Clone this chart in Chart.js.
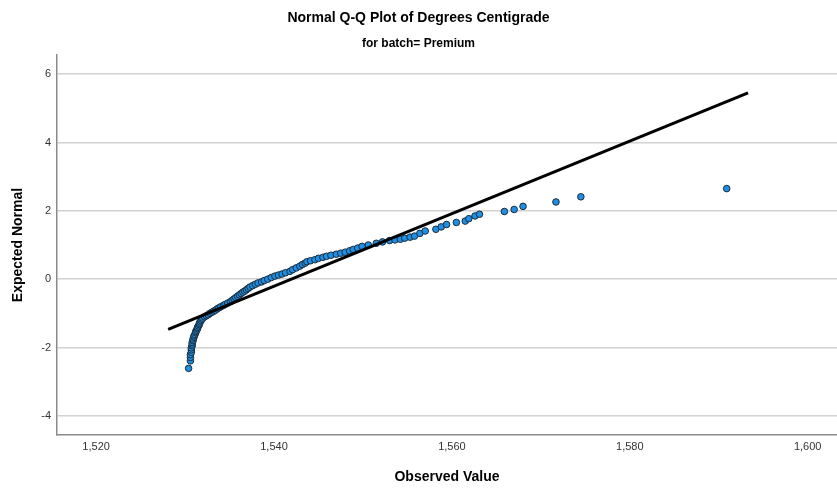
<!DOCTYPE html>
<html>
<head>
<meta charset="utf-8">
<title>Normal Q-Q Plot of Degrees Centigrade</title>
<script src="https://cdn.jsdelivr.net/npm/chart.js@4.4.0/dist/chart.umd.min.js"></script>
<style>
  body { margin: 0; background: #fff; }
  #wrap { width: 837px; height: 488px; }
</style>
</head>
<body>
<div id="wrap"><canvas id="qqChart"></canvas></div>
<script>
var observed = [
  1530.4, 1530.6, 1530.6, 1530.6, 1530.7, 1530.7, 1530.7, 1530.8, 1530.8, 1530.8, 1530.9, 1530.9,
  1531.0, 1531.0, 1531.1, 1531.2, 1531.2, 1531.3, 1531.4, 1531.4, 1531.5, 1531.6, 1531.6, 1531.7,
  1531.8, 1531.9, 1532.0, 1532.2,
  1532.4, 1532.6, 1532.8, 1533.0, 1533.2, 1533.4, 1533.6, 1533.8, 1534.0, 1534.3, 1534.5, 1534.8, 1535.1,
  1535.3, 1535.5, 1535.7, 1535.9, 1536.1, 1536.3, 1536.5, 1536.7, 1536.9, 1537.1, 1537.3,
  1537.6, 1537.9, 1538.2, 1538.6, 1538.9, 1539.3, 1539.7, 1540.1, 1540.5, 1540.9, 1541.3, 1541.8,
  1542.1, 1542.5, 1542.9, 1543.2, 1543.5, 1543.7,
  1544.1, 1544.6, 1545.0, 1545.5, 1545.9, 1546.4, 1547.0, 1547.5, 1548.0, 1548.5, 1548.9, 1549.4, 1549.9,
  1550.6, 1551.5, 1552.2, 1553.0, 1553.6, 1554.2, 1554.7, 1555.3, 1555.8, 1556.4, 1557.0, 1558.2,
  1558.8, 1559.4, 1560.5, 1561.5, 1561.9, 1562.6, 1563.1, 1565.9, 1567.0, 1568.0, 1571.7, 1574.5, 1590.9
];
// Expected normal scores for each observed value
var expectedNormal = [
  -2.61, -2.39, -2.29, -2.21, -2.14, -2.07, -2.01, -1.95, -1.90, -1.85, -1.80, -1.75,
  -1.70, -1.66, -1.62, -1.57, -1.53, -1.49, -1.45, -1.41, -1.37, -1.33, -1.29, -1.25,
  -1.21, -1.17, -1.14, -1.10,
  -1.07, -1.04, -1.00, -0.97, -0.94, -0.91, -0.87, -0.84, -0.81, -0.77, -0.74, -0.70, -0.66,
  -0.62, -0.58, -0.54, -0.50, -0.46, -0.42, -0.38, -0.35, -0.31, -0.27, -0.23,
  -0.19, -0.15, -0.11, -0.08, -0.04, 0.00, 0.05, 0.09, 0.12, 0.15, 0.19, 0.23,
  0.28, 0.33, 0.38, 0.43, 0.47, 0.51,
  0.54, 0.57, 0.61, 0.64, 0.67, 0.70, 0.73, 0.76, 0.79, 0.83, 0.87, 0.91, 0.96,
  1.00, 1.05, 1.09, 1.13, 1.15, 1.17, 1.20, 1.23, 1.26, 1.34, 1.41, 1.46,
  1.53, 1.60, 1.66, 1.70, 1.77, 1.85, 1.90, 1.98, 2.04, 2.13, 2.26, 2.41, 2.65
];
// Reference line end points
var lineObserved = [1528.1, 1593.3];
var lineExpected = [-1.47, 5.45];
// Axis ticks
var xTicks = [1520, 1540, 1560, 1580, 1600];
var yTicks = [-4, -2, 0, 2, 4, 6];

var FONT = "'Liberation Sans', Arial, sans-serif";

var points = observed.map(function (v, i) { return { x: v, y: expectedNormal[i] }; });
var linePts = lineObserved.map(function (v, i) { return { x: v, y: lineExpected[i] }; });

new Chart(document.getElementById('qqChart').getContext('2d'), {
    type: 'scatter',
    data: {
        datasets: [
            {
                type: 'line',
                data: linePts,
                borderColor: '#000',
                borderWidth: 3,
                pointRadius: 0,
                fill: false
            },
            {
                data: points,
                backgroundColor: '#1f8fe3',
                borderColor: '#1b2b3a',
                borderWidth: 1,
                pointRadius: 3.3
            }
        ]
    },
    options: {
        responsive: true,
        maintainAspectRatio: false,
        animation: false,
        layout: { padding: 0, autoPadding: false },
        plugins: {
            legend: { display: false },
            tooltip: { enabled: false },
            title: {
                display: true,
                text: 'Normal Q-Q Plot of Degrees Centigrade',
                color: '#000',
                font: { family: FONT, size: 14, weight: 'bold' },
                padding: { top: 10, bottom: 6 }
            },
            subtitle: {
                display: true,
                text: 'for batch= Premium',
                color: '#000',
                font: { family: FONT, size: 12, weight: 'bold' },
                padding: { top: 4, bottom: 3.8 }
            }
        },
        scales: {
            x: {
                type: 'linear',
                min: 1515.6,
                max: 1603.3,
                afterBuildTicks: function (s) { s.ticks = xTicks.map(function (v) { return { value: v }; }); },
                afterFit: function (s) { s.height = 53; },
                grid: { display: false, drawTicks: false },
                border: { display: true, color: '#8a8a8a', width: 1.5 },
                ticks: {
                    padding: 5,
                    color: '#333',
                    maxRotation: 0,
                    autoSkip: false,
                    font: { family: FONT, size: 11 },
                    callback: function (v) { return v.toLocaleString('en-US'); }
                },
                title: {
                    display: true,
                    text: 'Observed Value',
                    color: '#000',
                    font: { family: FONT, size: 14, weight: 'bold' },
                    padding: { top: 0, bottom: 2.6 }
                }
            },
            y: {
                min: -4.56,
                max: 6.56,
                afterBuildTicks: function (s) { s.ticks = yTicks.map(function (v) { return { value: v }; }); },
                afterFit: function (s) { s.width = 57; },
                grid: { color: '#d2d2d2', lineWidth: 1.5, drawTicks: false },
                border: { display: true, color: '#8a8a8a', width: 1.5 },
                ticks: {
                    padding: 6,
                    color: '#333',
                    font: { family: FONT, size: 11 },
                    callback: function (v) { return String(v); }
                },
                title: {
                    display: true,
                    text: 'Expected Normal',
                    color: '#000',
                    font: { family: FONT, size: 14, weight: 'bold' },
                    padding: { top: 9.6, bottom: 0 }
                }
            }
        }
    }
});
</script>
</body>
</html>
